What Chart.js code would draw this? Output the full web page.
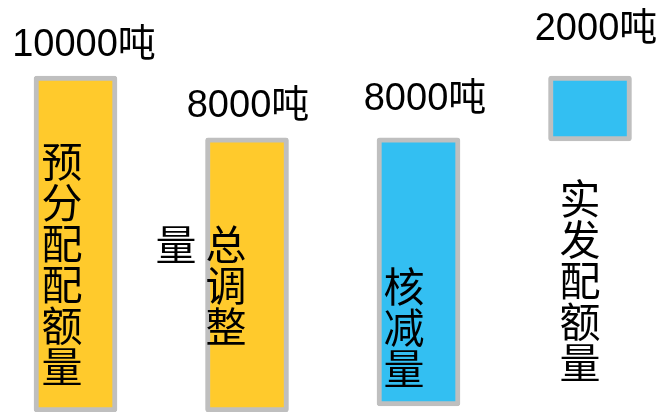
<!DOCTYPE html>
<html>
<head>
<meta charset="utf-8">
<script src="https://cdn.jsdelivr.net/npm/chart.js@4/dist/chart.umd.min.js"></script>
<style>
  html, body { margin: 0; padding: 0; background: #ffffff; }
  #wrap { width: 661px; height: 412px; position: relative; }
</style>
</head>
<body>
<div id="wrap"><canvas id="c" width="661" height="412"></canvas></div>
<script>
// ---- data ----
const categories = ['预分配配额量', '总调整量', '核减量', '实发配额量'];
const amounts = [10000, 8000, 8000, 2000];
const unit = '吨';
const barStart = [-850, -850, -650, 7900];
const barEnd = [10000, 8000, 8000, 10000];

// ---- styles ----
const fillColors = ['#FFCA2C', '#FFCA2C', '#33BFF2', '#33BFF2'];
const labelDx = [8.5, 1, 6.5, 6];
const labelGap = [20, 21, 28, 36];
const catDx = [-13.5, -21, -14.5, -10];
const catTop = [143, 226, 268, 180];
const catPerCol = [6, 3, 3, 5];
const charPitch = 41;
const colPitch = 50;

const labelPlugin = {
  id: 'labels',
  afterDatasetsDraw(chart) {
    const ctx = chart.ctx;
    const meta = chart.getDatasetMeta(0);
    ctx.save();
    ctx.fillStyle = '#000000';
    meta.data.forEach((bar, i) => {
      // value label
      ctx.font = '38px "Liberation Sans", "Noto Sans CJK SC", sans-serif';
      ctx.textAlign = 'center';
      ctx.textBaseline = 'alphabetic';
      ctx.fillText(amounts[i] + unit, bar.x + labelDx[i], bar.y - labelGap[i]);
      // vertical category text
      ctx.font = '41px "Noto Sans CJK SC", sans-serif';
      ctx.textBaseline = 'middle';
      const chars = Array.from(categories[i]);
      chars.forEach((ch, k) => {
        const col = Math.floor(k / catPerCol[i]);
        const row = k % catPerCol[i];
        const cx = bar.x + catDx[i] - col * colPitch;
        const cy = catTop[i] + 18 + row * charPitch;
        ctx.fillText(ch, cx, cy);
      });
    });
    ctx.restore();
  }
};

new Chart(document.getElementById('c'), {
  type: 'bar',
  data: {
    labels: categories,
    datasets: [{
      data: barStart.map((s, i) => [s, barEnd[i]]),
      backgroundColor: fillColors,
      borderColor: '#BFBFBF',
      borderWidth: 5,
      borderRadius: 3,
      borderSkipped: false,
      barThickness: 83,
      clip: false
    }]
  },
  options: {
    responsive: false,
    animation: false,
    layout: { padding: { top: 76, bottom: 0, left: 75.5, right: 71 } },
    plugins: { legend: { display: false }, tooltip: { enabled: false } },
    scales: {
      x: { display: false, offset: false },
      y: { display: false, min: -850, max: 10000 }
    }
  },
  plugins: [labelPlugin]
});
</script>
</body>
</html>
